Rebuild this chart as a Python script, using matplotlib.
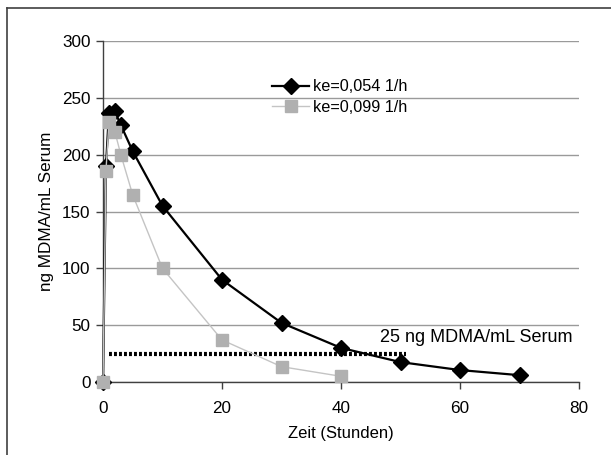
import matplotlib.pyplot as plt
from matplotlib.lines import Line2D

plt.rcParams['font.family'] = ['Liberation Sans', 'DejaVu Sans']

# Serumkonzentration MDMA, zwei Eliminationskonstanten
zeit_a = [0, 0.5, 1, 2, 3, 5, 10, 20, 30, 40, 50, 60, 70]
konz_a = [0, 190, 237, 238, 226, 203, 155, 90, 52, 30, 17.5, 10.5, 6]

zeit_b = [0, 0.5, 1, 2, 3, 5, 10, 20, 30, 40]
konz_b = [0, 186, 229, 220, 200, 164.5, 100, 37, 13.5, 5]

grenze = 25
grenze_von, grenze_bis = 1, 51

W, H = 611, 455
fig = plt.figure(figsize=(W / 100, H / 100), dpi=100)
ax = fig.add_axes([103 / W, 1 - 382 / H, 476 / W, 341 / H])

ax.plot(zeit_a, konz_a, color='black', lw=1.6, marker='D', ms=8,
        label='ke=0,054 1/h', zorder=3, clip_on=False)
ax.plot(zeit_b, konz_b, color='#c4c4c4', lw=1.0, marker='s', ms=8,
        mfc='#b0b0b0', mec='#b0b0b0', label='ke=0,099 1/h', zorder=4,
        clip_on=False)
ax.plot([grenze_von, grenze_bis], [grenze, grenze], color='black', lw=3,
        linestyle=(0, (0.7, 0.5)), zorder=2)
ax.text(46.5, 39.5, '25 ng MDMA/mL Serum', fontsize=13, va='center')

ax.set_xlim(0, 80)
ax.set_ylim(0, 300)
ax.set_xticks([0, 20, 40, 60, 80])
ax.set_yticks(range(0, 301, 50))
ax.yaxis.grid(True, color='#9a9a9a', lw=1.0)
ax.set_axisbelow(True)

for s in ['top', 'right']:
    ax.spines[s].set_visible(False)
for s in ['left', 'bottom']:
    ax.spines[s].set_color('#404040')
    ax.spines[s].set_linewidth(1.0)
ax.tick_params(direction='out', length=5, width=1, color='#404040',
               labelsize=12.3)
ax.tick_params(axis='x', pad=9)
ax.tick_params(axis='y', pad=4)

ax.set_xlabel('Zeit (Stunden)', fontsize=12, labelpad=7)
ax.set_ylabel('ng MDMA/mL Serum', fontsize=12.3, labelpad=6)

ax.legend(loc='upper left', bbox_to_anchor=(0.355, 0.888), frameon=False,
          fontsize=11.7, borderpad=0, borderaxespad=0, handlelength=2.3,
          handletextpad=0.2, labelspacing=0.35)

# Rahmen oben und links
fig.add_artist(Line2D([7.5 / W, 7.5 / W], [0, 1 - 7.5 / H],
                      color='#404040', lw=1.2, transform=fig.transFigure))
fig.add_artist(Line2D([7.5 / W, 1], [1 - 7.5 / H, 1 - 7.5 / H],
                      color='#404040', lw=1.2, transform=fig.transFigure))

fig.savefig('out.png', dpi=100)
